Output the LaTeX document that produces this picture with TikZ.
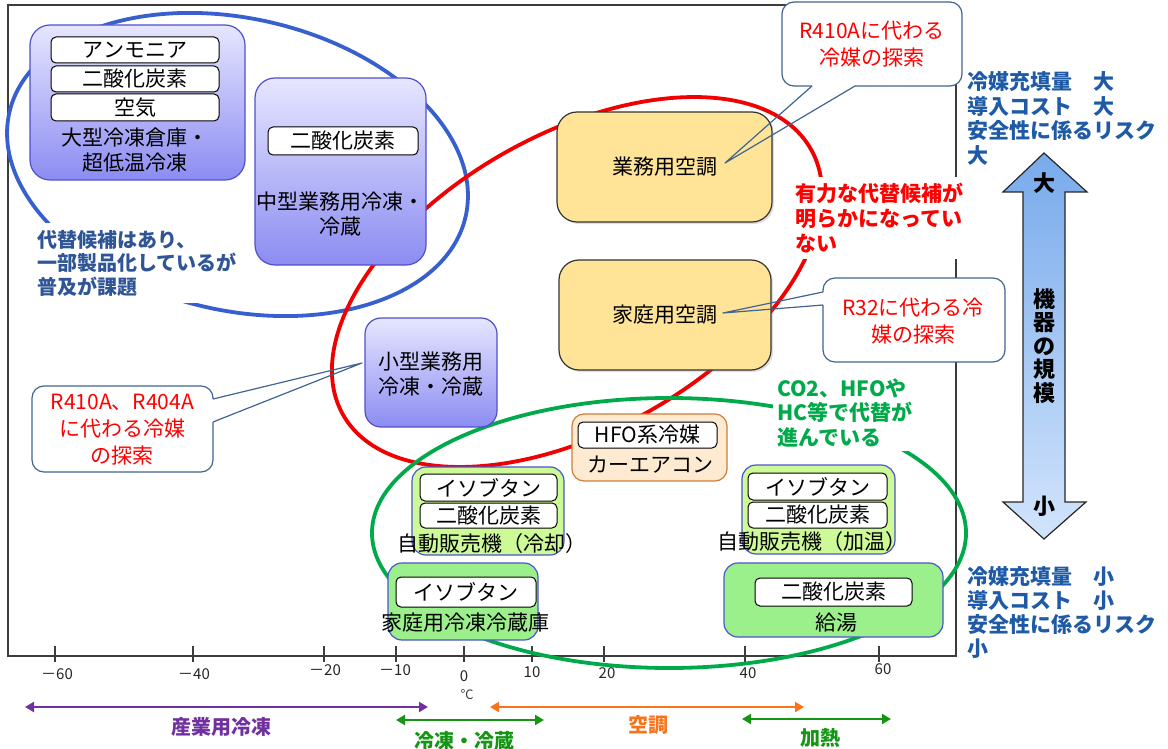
\documentclass[tikz,border=0pt]{standalone}
\usepackage{fontspec}
\setmainfont{Noto Sans CJK JP}
\usetikzlibrary{arrows.meta,shadows}
\definecolor{purpTop}{RGB}{230,230,255}
\definecolor{purpBot}{RGB}{140,140,242}
\definecolor{purpBorder}{RGB}{80,80,205}
\definecolor{yelFill}{RGB}{255,228,152}
\definecolor{peachFill}{RGB}{253,234,208}
\definecolor{peachBorder}{RGB}{205,125,60}
\definecolor{lgFill}{RGB}{205,250,150}
\definecolor{gFill}{RGB}{155,240,140}
\definecolor{boxBlue}{RGB}{75,85,205}
\definecolor{ellBlue}{RGB}{55,95,205}
\definecolor{ellRed}{RGB}{240,0,0}
\definecolor{ellGreen}{RGB}{0,170,75}
\definecolor{txtBlue}{RGB}{47,85,151}
\definecolor{txtBlueR}{RGB}{30,90,165}
\definecolor{txtRed}{RGB}{255,0,0}
\definecolor{txtGreen}{RGB}{0,170,75}
\definecolor{calloutBorder}{RGB}{65,100,145}
\definecolor{arrPurple}{RGB}{112,48,160}
\definecolor{arrOrange}{RGB}{250,115,25}
\definecolor{arrGreen}{RGB}{20,150,20}
\definecolor{frameGray}{RGB}{60,60,60}
\definecolor{arrTop}{RGB}{120,170,235}
\definecolor{arrBot}{RGB}{210,228,252}
\newcommand\fsz[2]{\fontsize{#1}{#2}\selectfont}
\begin{document}
\begin{tikzpicture}[x=1pt,y=-1pt,
  pbox/.style={draw=purpBorder, line width=1.2pt, top color=purpTop, bottom color=purpBot, rounded corners=20pt, inner sep=0pt},
  ybox/.style={draw=black!80, line width=1.2pt, fill=yelFill, rounded corners=20pt, inner sep=0pt, font=\fsz{21}{25},
     drop shadow={opacity=0.25, shadow xshift=2pt, shadow yshift=-2pt}},
  fbox/.style={draw=peachBorder, line width=1.2pt, fill=peachFill, rounded corners=12pt, inner sep=0pt},
  lgbox/.style={draw=boxBlue, line width=1.2pt, fill=lgFill, rounded corners=14pt, inner sep=0pt},
  gbox/.style={draw=boxBlue, line width=1.2pt, fill=gFill, rounded corners=14pt, inner sep=0pt},
  tag/.style={draw=black, line width=1pt, fill=white, rounded corners=5pt, inner sep=0pt, font=\fsz{21}{25}},
  lbl/.style={font=\fsz{21}{25}, align=center, inner sep=0pt},
  cbord/.style={draw=calloutBorder, line width=1.2pt, line join=round},
  ctext/.style={font=\fsz{21}{27}, text=txtRed, align=center, inner sep=0pt},
  ell/.style={line width=3.8pt},
  barr/.style={line width=2.6pt, {Triangle[length=9pt,width=10pt]}-{Triangle[length=9pt,width=10pt]}},
  tick/.style={font=\fsz{15}{17}, text=black!85, inner sep=0pt},
  blab/.style={font=\bfseries\fsz{20}{24}, inner sep=0pt}
]
\useasboundingbox (0,0) rectangle (1168,749);
% frame
\draw[frameGray, line width=1.5pt] (8,5) rectangle (956,656);
\foreach \xx in {55,193,324,396,464,532,604,745,879} \draw[frameGray, line width=1.2pt] (\xx,646) -- (\xx,662);

% callout bodies (fills and box outlines)
\fill[white, rounded corners=12pt] (782,2) rectangle (962,86);
\fill[white] (812,86) -- (725,163) -- (855,86) -- cycle;
\draw[cbord, rounded corners=12pt] (855,86) -- (962,86) -- (962,2) -- (782,2) -- (782,86) -- (812,86);
\node[ctext] (c1txt) at (872,44) {R410Aに代わる\\冷媒の探索};

\fill[white, rounded corners=12pt] (823,278) rectangle (1005,362);
\fill[white] (823,292) -- (723,313) -- (823,305) -- cycle;
\draw[cbord, rounded corners=12pt] (823,305) -- (823,362) -- (1005,362) -- (1005,278) -- (823,278) -- (823,292);
\node[ctext] (c2txt) at (913,321) {R32に代わる冷\\媒の探索};

\fill[white, rounded corners=12pt] (32,386) rectangle (213,472);
\fill[white] (213,399) -- (362,363) -- (213,422) -- cycle;
\draw[cbord, rounded corners=12pt] (213,422) -- (213,472) -- (32,472) -- (32,386) -- (213,386) -- (213,399);
\node[ctext] (c3txt) at (122.5,430) {R410A、R404A\\に代わる冷媒\\の探索};

% ellipses
\draw[ell, ellBlue, rotate around={-12.85:(237.5,164.5)}] (237.5,164.5) ellipse [x radius=234, y radius=146];
\draw[ell, ellRed, rotate around={29.6:(577,282)}] (577,282) ellipse [x radius=269, y radius=148];
\draw[ell, ellGreen] (669,533) ellipse [x radius=297, y radius=135];

% annotations with white background
\node[fill=white, inner xsep=4pt, inner ysep=7pt, anchor=west, align=left, font=\bfseries\fsz{20}{23.5}, text=txtBlue] (noteBlue) at (33,263) {代替候補はあり、\\一部製品化しているが\\普及が課題};
\node[fill=white, inner xsep=4pt, inner ysep=6pt, anchor=west, align=left, font=\bfseries\fsz{21}{25}, text=txtRed] (noteRed) at (791,218) {有力な代替候補が\\明らかになってい\\ない};
\node[fill=white, inner xsep=4pt, inner ysep=4pt, anchor=west, align=left, font=\bfseries\fsz{21}{24.5}, text=txtGreen] (noteGreen) at (773,412.5) {CO2、HFOや\\HC等で代替が\\進んでいる};

% box A
\node[pbox, minimum width=215pt, minimum height=155pt] (boxA) at (137.5,102.5) {};
\node[tag, minimum width=168pt, minimum height=26pt] (ammo) at (135,50) {アンモニア};
\node[tag, minimum width=168pt, minimum height=26pt] (co2A) at (135,79) {二酸化炭素};
\node[tag, minimum width=168pt, minimum height=27pt] (air) at (135,107.5) {空気};
\node[lbl] (labA) at (135,150) {大型冷凍倉庫・\\超低温冷凍};
% box B
\node[pbox, minimum width=171pt, minimum height=187pt] (boxB) at (340.5,171.5) {};
\node[tag, minimum width=150pt, minimum height=28pt] (co2B) at (343,141) {二酸化炭素};
\node[lbl] (labB) at (340,214.5) {中型業務用冷凍・\\冷蔵};
% box C
\node[pbox, minimum width=132pt, minimum height=109pt, rounded corners=16pt] (boxC) at (431,372.5) {};
\node[lbl] (labC) at (431,374.5) {小型業務用\\冷凍・冷蔵};
% yellow boxes
\node[ybox, minimum width=215pt, minimum height=110pt] (bizAC) at (664.5,167) {業務用空調};
\node[ybox, minimum width=212pt, minimum height=110pt] (homeAC) at (665,315) {家庭用空調};
% car aircon
\node[fbox, minimum width=155pt, minimum height=67pt] (boxF) at (649.5,447.5) {};
\node[tag, minimum width=139pt, minimum height=26pt] (hfo) at (647.5,435) {HFO系冷媒};
\node[lbl] (labF) at (650,465) {カーエアコン};
% vending cool
\node[lgbox, minimum width=152pt, minimum height=88pt] (boxG1) at (488,511) {};
\node[tag, minimum width=137pt, minimum height=27pt] (isoG1) at (488.5,487.5) {イソブタン};
\node[tag, minimum width=137pt, minimum height=25pt] (co2G1) at (488.5,515.5) {二酸化炭素};
\node[lbl] (labG1) at (492,544) {自動販売機（冷却）};
% home fridge
\node[gbox, minimum width=150pt, minimum height=77pt] (boxG2) at (463,601.5) {};
\node[tag, minimum width=140pt, minimum height=30pt] (isoG2) at (466,592) {イソブタン};
\node[lbl] (labG2) at (465,623) {家庭用冷凍冷蔵庫};
% vending warm
\node[lgbox, minimum width=153pt, minimum height=89pt] (boxG3) at (818.5,509.5) {};
\node[tag, minimum width=139pt, minimum height=27pt] (isoG3) at (817.5,486.5) {イソブタン};
\node[tag, minimum width=139pt, minimum height=26pt] (co2G3) at (817.5,515) {二酸化炭素};
\node[lbl] (labG3) at (812,542) {自動販売機（加温）};
% hot water
\node[gbox, minimum width=219pt, minimum height=74pt] (boxG4) at (833.5,600) {};
\node[tag, minimum width=157pt, minimum height=28pt] (co2G4) at (833.5,592) {二酸化炭素};
\node[lbl] (labG4) at (836,623) {給湯};

% callout pointers (drawn over the boxes)
\draw[cbord] (812,86) -- (725,163) -- (855,86);
\draw[cbord] (823,292) -- (723,313) -- (823,305);
\draw[cbord] (213,399) -- (362,363) -- (213,422);

% right side
\node[anchor=west, align=left, font=\bfseries\fsz{21}{24.5}, text=txtBlueR, inner sep=0pt] (highTxt) at (967,118.5) {冷媒充填量　大\\導入コスト　大\\安全性に係るリスク\\大};
\node[anchor=west, align=left, font=\bfseries\fsz{21}{24}, text=txtBlueR, inner sep=0pt] (lowTxt) at (967,612.5) {冷媒充填量　小\\導入コスト　小\\安全性に係るリスク\\小};
\shade[top color=arrTop, bottom color=arrBot, draw=black!85, line width=1.2pt, line join=miter]
  (1044,153) -- (1087,192) -- (1065,192) -- (1065,502) -- (1086,502) -- (1044,539) -- (1003,502) -- (1023,502) -- (1023,192) -- (1003,192) -- cycle;
\node[font=\bfseries\fsz{22}{24}, inner sep=0pt] (bigLab) at (1044,183) {大};
\node[font=\bfseries\fsz{22}{24}, inner sep=0pt] (smallLab) at (1044,506) {小};
\node[font=\bfseries\fsz{22}{23.5}, align=center, inner sep=0pt] (scaleLab) at (1044,346) {機\\器\\の\\規\\模};

% axis labels
\node[tick] (tm60) at (57,674) {－60};
\node[tick] (tm40) at (194,674) {－40};
\node[tick] (tm20) at (325,670) {－20};
\node[tick] (tm10) at (395,670) {－10};
\node[tick] (t0) at (464,676) {0};
\node[tick] (t10) at (532,672) {10};
\node[tick] (t20) at (607,673) {20};
\node[tick] (t40) at (748,673) {40};
\node[tick] (t60) at (883,669) {60};
\node[font=\fsz{13}{15}, text=black!75, inner sep=0pt] (deg) at (467,695) {℃};

% bottom ranges
\coordinate (pa1) at (25,707); \coordinate (pa2) at (428,707);
\coordinate (ga1) at (396,720); \coordinate (ga2) at (544,720);
\coordinate (oa1) at (490,707); \coordinate (oa2) at (804,707);
\coordinate (gb1) at (742,719); \coordinate (gb2) at (891,719);
\draw[barr, arrPurple] (pa1) -- (pa2);
\draw[barr, arrGreen] (ga1) -- (ga2);
\draw[barr, arrOrange] (oa1) -- (oa2);
\draw[barr, arrGreen] (gb1) -- (gb2);
\node[blab, text=arrPurple] (labInd) at (221,727) {産業用冷凍};
\node[blab, text=arrGreen] (labFr) at (464,741) {冷凍・冷蔵};
\node[blab, text=arrOrange] (labAC) at (648,725) {空調};
\node[blab, text=arrGreen] (labHeat) at (820,738) {加熱};
\end{tikzpicture}
\end{document}
